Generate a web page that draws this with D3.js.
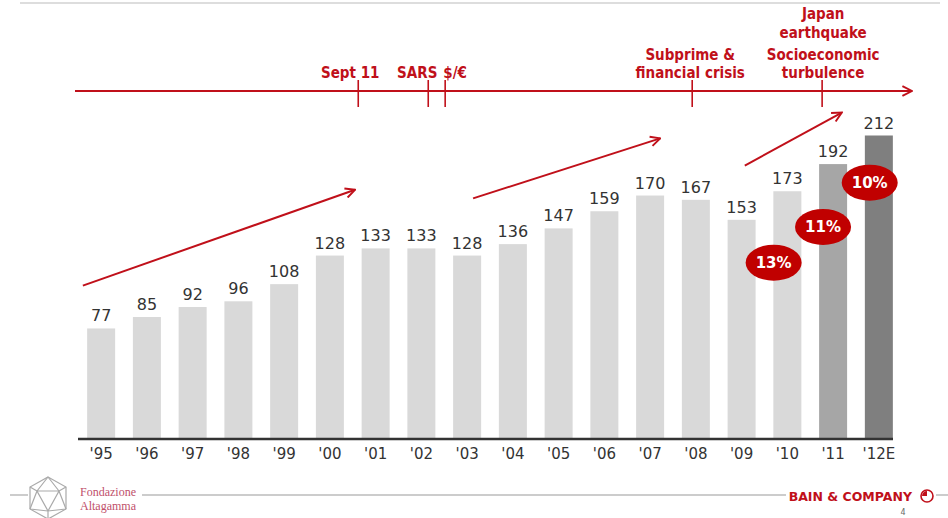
<!DOCTYPE html>
<html>
<head>
<meta charset="utf-8">
<script src="https://cdn.jsdelivr.net/npm/d3@7"></script>
<style>
  body { margin: 0; background: #fff; }
  svg { display: block; }
</style>
</head>
<body>
<div id="chart"></div>
<script>

// data
var years = ["'95","'96","'97","'98","'99","'00","'01","'02","'03","'04","'05","'06","'07","'08","'09","'10","'11","'12E"];
var values = [77, 85, 92, 96, 108, 128, 133, 133, 128, 136, 147, 159, 170, 167, 153, 173, 192, 212];
var barColors = ["#d9d9d9","#d9d9d9","#d9d9d9","#d9d9d9","#d9d9d9","#d9d9d9","#d9d9d9","#d9d9d9","#d9d9d9",
                 "#d9d9d9","#d9d9d9","#d9d9d9","#d9d9d9","#d9d9d9","#d9d9d9","#d9d9d9","#a6a6a6","#7f7f7f"];

// growth bubbles: position on the bar index, at a value height
var growthLabels = ["13%", "11%", "10%"];
var growthPos = [14.7, 15.78, 16.8];
var growthLevel = [123, 148, 179];

// trend arrows (bar index, value)
var trendFrom = [[-0.4, 107], [8.13, 168], [14.07, 191]];
var trendTo   = [[5.55, 174], [12.22, 210], [16.19, 228]];

// timeline events (position on the bar index)
var eventNames = [["Sept 11"], ["SARS"], ["$/€"], ["Subprime &", "financial crisis"], ["Japan", "earthquake", "Socioeconomic", "turbulence"]];
var eventPos = [5.62, 7.15, 7.52, 12.92, 15.76];
var eventLabelDx = [-8, -11, 10, -2, 1];

var red = "#c0101a";

var W = 948, H = 518;
var svg = d3.select("#chart").append("svg")
    .attr("width", W)
    .attr("height", H);

// scales
var x = d3.scaleBand()
  .domain(years)
  .range([78, 902])
  .paddingInner(0.388)
  .paddingOuter(0.2);

var xi = d3.scaleLinear()
  .domain([0, years.length - 1])
  .range([x(years[0]) + x.bandwidth() / 2, x(years[years.length - 1]) + x.bandwidth() / 2]);

var y = d3.scaleLinear()
  .domain([0, 212])
  .range([438.5, 135.5]);

// header rule
svg.append("line")
  .attr("x1", 20).attr("x2", 940).attr("y1", 3).attr("y2", 3)
  .attr("stroke", "#bbb").attr("stroke-width", 1);

// bars
svg.selectAll("rect.bar")
  .data(values)
  .enter()
  .append("rect")
    .attr("class", "bar")
    .attr("x", function(d, i) { return x(years[i]); })
    .attr("y", function(d) { return y(d); })
    .attr("width", x.bandwidth())
    .attr("height", function(d) { return y(0) - y(d); })
    .attr("fill", function(d, i) { return barColors[i]; });

// value labels
svg.selectAll("text.val")
  .data(values)
  .enter()
  .append("text")
    .attr("class", "val")
    .attr("x", function(d, i) { return x(years[i]) + x.bandwidth() / 2; })
    .attr("y", function(d) { return y(d) - 7; })
    .attr("text-anchor", "middle")
    .attr("font-family", "DejaVu Sans, Verdana, sans-serif")
    .attr("font-size", 16)
    .attr("fill", "#333")
    .text(function(d) { return d; });

// x axis
var xAxis = svg.append("g")
  .attr("transform", "translate(0," + 439 + ")")
  .call(d3.axisBottom(x).tickSize(0).tickPadding(9));
xAxis.select(".domain").remove();
xAxis.append("line")
  .attr("x1", 78).attr("x2", 893)
  .attr("stroke", "#333").attr("stroke-width", 2.5);
xAxis.selectAll("text")
  .attr("font-family", "DejaVu Sans, Verdana, sans-serif")
  .attr("font-size", 15)
  .attr("fill", "#333");

// trend arrows
var defs = svg.append("defs");
defs.append("marker")
  .attr("id", "arr")
  .attr("viewBox", "0 0 10 10")
  .attr("refX", 9).attr("refY", 5)
  .attr("markerWidth", 6).attr("markerHeight", 6)
  .attr("orient", "auto")
  .append("path")
    .attr("d", "M1,1 L9,5 L1,9")
    .attr("fill", "none")
    .attr("stroke", red)
    .attr("stroke-width", 1.6);

svg.selectAll("line.trend")
  .data(trendFrom)
  .enter()
  .append("line")
    .attr("class", "trend")
    .attr("x1", function(d) { return xi(d[0]); })
    .attr("y1", function(d) { return y(d[1]); })
    .attr("x2", function(d, i) { return xi(trendTo[i][0]); })
    .attr("y2", function(d, i) { return y(trendTo[i][1]); })
    .attr("stroke", red)
    .attr("stroke-width", 2)
    .attr("marker-end", "url(#arr)");

// growth bubbles
var bub = svg.selectAll("g.bub")
  .data(growthLabels)
  .enter()
  .append("g")
    .attr("class", "bub")
    .attr("transform", function(d, i) {
      return "translate(" + xi(growthPos[i]) + "," + y(growthLevel[i]) + ")";
    });
bub.append("ellipse")
  .attr("rx", 28).attr("ry", 18)
  .attr("fill", "#c00000");
bub.append("text")
  .attr("text-anchor", "middle")
  .attr("dy", "0.36em")
  .attr("font-family", "DejaVu Sans, Verdana, sans-serif")
  .attr("font-weight", "bold")
  .attr("font-size", 15)
  .attr("fill", "#fff")
  .text(function(d) { return d; });

// timeline
var tlY = 91;
svg.append("line")
  .attr("x1", 75).attr("x2", 912).attr("y1", tlY).attr("y2", tlY)
  .attr("stroke", red).attr("stroke-width", 2)
  .attr("marker-end", "url(#arr)");

svg.selectAll("line.evt")
  .data(eventPos)
  .enter()
  .append("line")
    .attr("class", "evt")
    .attr("x1", function(d) { return xi(d); })
    .attr("x2", function(d) { return xi(d); })
    .attr("y1", 80).attr("y2", 107)
    .attr("stroke", red).attr("stroke-width", 1.6);

var lineY = [[78], [78], [78], [60, 78], [19, 38, 60, 78]];
var evt = svg.selectAll("text.evt")
  .data(eventNames)
  .enter()
  .append("text")
    .attr("class", "evt")
    .attr("text-anchor", "middle")
    .attr("font-family", "DejaVu Sans Condensed, DejaVu Sans, sans-serif")
    .attr("font-weight", "bold")
    .attr("font-size", 15)
    .attr("fill", red);
evt.selectAll("tspan")
  .data(function(d, i) { return d.map(function(s, j) { return { s: s, i: i, j: j }; }); })
  .enter()
  .append("tspan")
    .attr("x", function(d) { return xi(eventPos[d.i]) + eventLabelDx[d.i]; })
    .attr("y", function(d) { return lineY[d.i][d.j]; })
    .text(function(d) { return d.s; });

// footer
svg.append("line")
  .attr("x1", 10).attr("x2", 28).attr("y1", 495).attr("y2", 495)
  .attr("stroke", "#999").attr("stroke-width", 1);
svg.append("line")
  .attr("x1", 142).attr("x2", 786).attr("y1", 495).attr("y2", 495)
  .attr("stroke", "#999").attr("stroke-width", 1);
svg.append("line")
  .attr("x1", 936).attr("x2", 948).attr("y1", 495).attr("y2", 495)
  .attr("stroke", "#999").attr("stroke-width", 1);

// altagamma mark (rough icosahedron outline)
var ico = svg.append("g").attr("transform", "translate(48,498)")
  .attr("fill", "none").attr("stroke", "#aaa").attr("stroke-width", 1.2);
ico.append("path").attr("d", "M0,-21 L18,-11 L18,11 L0,21 L-18,11 L-18,-11 Z");
ico.append("path").attr("d", "M-11,-7 L11,-7 L0,13 Z M0,-21 L-11,-7 M0,-21 L11,-7 M18,-11 L11,-7 M18,11 L11,-7 M18,11 L0,13 M0,21 L0,13 M-18,11 L0,13 M-18,11 L-11,-7 M-18,-11 L-11,-7");

svg.append("text")
  .attr("x", 80).attr("y", 496)
  .attr("font-family", "Liberation Serif, serif")
  .attr("font-size", 12)
  .attr("fill", "#c0506a")
  .text("Fondazione");
svg.append("text")
  .attr("x", 80).attr("y", 510)
  .attr("font-family", "Liberation Serif, serif")
  .attr("font-size", 12)
  .attr("fill", "#c0506a")
  .text("Altagamma");

svg.append("text")
  .attr("x", 912).attr("y", 501)
  .attr("text-anchor", "end")
  .attr("font-family", "DejaVu Sans, sans-serif")
  .attr("font-weight", "bold")
  .attr("font-size", 12.5)
  .attr("fill", "#c0101a")
  .text("BAIN & COMPANY");
svg.append("circle")
  .attr("cx", 927).attr("cy", 496).attr("r", 6)
  .attr("fill", "none").attr("stroke", "#c0101a").attr("stroke-width", 1.6);
svg.append("path")
  .attr("d", "M927,496 L927,491 A5,5 0 0,0 922,496 Z")
  .attr("fill", "#c0101a");

svg.append("text")
  .attr("x", 903).attr("y", 515)
  .attr("text-anchor", "middle")
  .attr("font-family", "DejaVu Sans, sans-serif")
  .attr("font-size", 8)
  .attr("fill", "#666")
  .text("4");

</script>
</body>
</html>
